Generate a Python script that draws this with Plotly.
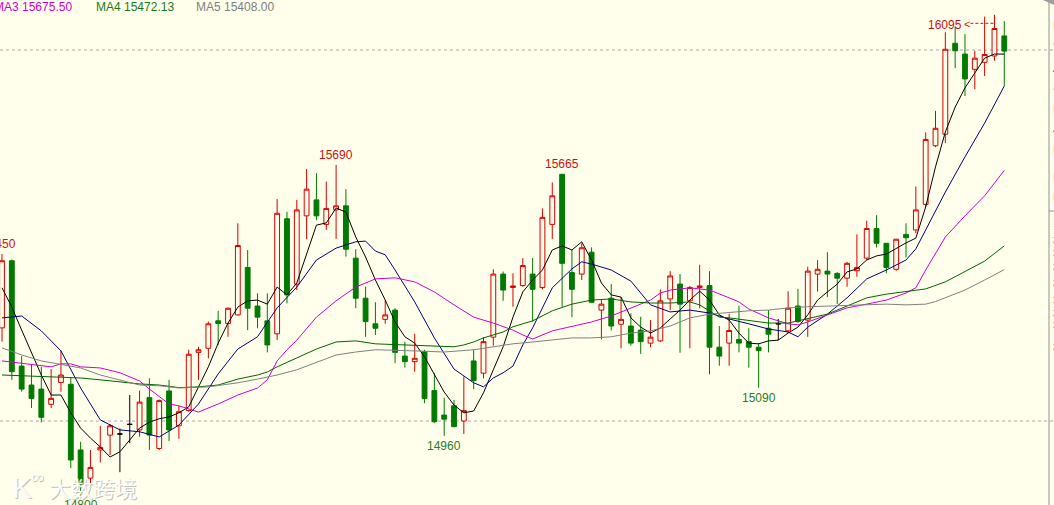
import plotly.graph_objects as go

BG = "#FFFFEC"
UP = "#D60000"
DOWN = "#007A00"
FONT = "Liberation Sans, Arial, sans-serif"

# daily candles, index 0..102 (left to right)
opens = [15251, 15432, 15148, 15097, 15086, 15045, 15104, 15099, 14922, 14846,
         14922, 14962, 14965, 14991, 14976, 15063, 14926, 15081, 14987, 15028,
         15185, 15196, 15270, 15263, 15286, 15414, 15310, 15270, 15235, 15545,
         15369, 15553, 15596, 15530, 15569, 15580, 15439, 15331, 15262, 15274,
         15299, 15175, 15160, 15187, 15082, 15016, 15041, 15000, 15162, 15129,
         15226, 15396, 15360, 15365, 15396, 15360, 15530, 15665, 15400, 15396,
         15455, 15299, 15331, 15261, 15256, 15245, 15210, 15216, 15329, 15369,
         15324, 15360, 15365, 15199, 15210, 15220, 15214, 15199, 15250, 15262,
         15243, 15310, 15272, 15396, 15404, 15398, 15385, 15405, 15439, 15519,
         15479, 15409, 15503, 15515, 15584, 15742, 15773, 16018, 15989, 15948,
         15967, 15984, 16038]
highs = [15450, 15435, 15175, 15154, 15146, 15140, 15190, 15118, 14944, 14922,
         14987, 14992, 14980, 15070, 15082, 15115, 15058, 15111, 15041, 15192,
         15200, 15268, 15297, 15306, 15533, 15461, 15344, 15344, 15598, 15564,
         15596, 15679, 15668, 15645, 15690, 15625, 15463, 15362, 15320, 15326,
         15304, 15214, 15235, 15192, 15129, 15063, 15057, 15120, 15192, 15226,
         15409, 15403, 15398, 15439, 15439, 15573, 15643, 15665, 15461, 15479,
         15468, 15326, 15369, 15334, 15290, 15281, 15272, 15355, 15404, 15396,
         15364, 15421, 15404, 15256, 15289, 15311, 15250, 15210, 15299, 15275,
         15350, 15356, 15416, 15434, 15455, 15401, 15429, 15503, 15540, 15555,
         15480, 15491, 15533, 15632, 15778, 15836, 16048, 16063, 16043, 15998,
         16090, 16095, 16078]
lows = [15214, 15111, 15079, 15035, 14996, 15035, 15079, 14873, 14800, 14832,
        14888, 14908, 14862, 14940, 14958, 14922, 14922, 14946, 14952, 15025,
        15111, 15169, 15205, 15227, 15284, 15245, 15250, 15185, 15218, 15317,
        15353, 15490, 15542, 15515, 15491, 15443, 15304, 15227, 15232, 15262,
        15156, 15144, 15133, 15048, 14995, 14960, 14983, 14965, 15086, 15115,
        15203, 15324, 15308, 15362, 15268, 15355, 15490, 15308, 15280, 15380,
        15318, 15220, 15244, 15196, 15203, 15181, 15199, 15213, 15299, 15184,
        15196, 15304, 15126, 15149, 15149, 15185, 15144, 15090, 15185, 15218,
        15237, 15265, 15227, 15349, 15334, 15315, 15362, 15389, 15434, 15468,
        15398, 15405, 15441, 15506, 15578, 15738, 15749, 15951, 15876, 15894,
        15930, 15971, 15903]
closes = [15432, 15133, 15086, 15061, 15010, 15061, 15124, 14895, 14830, 14875,
          14929, 14987, 14965, 14991, 15051, 14962, 15055, 14976, 15025, 15180,
          15192, 15262, 15263, 15304, 15473, 15304, 15280, 15205, 15560, 15340,
          15569, 15625, 15553, 15573, 15580, 15463, 15331, 15268, 15250, 15286,
          15185, 15160, 15169, 15061, 14998, 15005, 14985, 15028, 15109, 15214,
          15396, 15353, 15364, 15419, 15355, 15549, 15607, 15425, 15355, 15467,
          15320, 15315, 15256, 15274, 15210, 15214, 15226, 15324, 15391, 15315,
          15360, 15364, 15199, 15175, 15244, 15210, 15199, 15190, 15234, 15262,
          15304, 15268, 15404, 15409, 15396, 15385, 15425, 15414, 15519, 15479,
          15414, 15490, 15494, 15569, 15759, 15789, 16002, 15998, 15922, 15978,
          15988, 16058, 15997]

# moving averages (candle index -> value)
ma1 = [15359, 15307, 15245, 15183, 15124, 15070, 15070, 15022, 14981, 14954,
       14930, 14903, 14917, 14949, 14981, 14997, 15006, 15011, 15022, 15038,
       15092, 15146, 15210, 15264, 15307, 15324, 15326, 15315, 15361, 15340,
       15372, 15453, 15528, 15534, 15574, 15563, 15496, 15442, 15380, 15326,
       15267, 15227, 15210, 15173, 15124, 15078, 15043, 15022, 15027, 15076,
       15138, 15200, 15280, 15348, 15380, 15407, 15461, 15472, 15461, 15483,
       15434, 15372, 15340, 15334, 15278, 15253, 15237, 15251, 15275, 15299,
       15326, 15350, 15326, 15286, 15272, 15237, 15210, 15208, 15216, 15218,
       15237, 15253, 15286, 15326, 15348, 15369, 15402, 15410, 15434, 15445,
       15450, 15466, 15480, 15493, 15577, 15685, 15779, 15846, 15898, 15938,
       15978, 15989, 15989]
ma2_x = [0, 2, 4, 6, 8, 10, 12, 14, 16, 18, 20, 22, 24, 26, 28, 30, 32, 34, 36, 37,
         38, 39, 40, 42, 44, 46, 48, 49, 50, 51, 52, 53, 54, 56, 58, 59, 60, 62, 64, 66,
         68, 70, 72, 74, 76, 78, 80, 81, 82, 84, 86, 88, 90, 92, 93, 94, 96, 98, 100, 102]
ma2 = [15278, 15283, 15243, 15189, 15089, 15003, 14976, 14971, 14957, 14989,
       15046, 15127, 15194, 15227, 15305, 15361, 15434, 15466, 15483, 15485,
       15458, 15448, 15407, 15321, 15224, 15140, 15103, 15092, 15116, 15130,
       15148, 15205, 15251, 15359, 15410, 15429, 15423, 15407, 15377, 15313,
       15294, 15299, 15291, 15275, 15262, 15248, 15240, 15227, 15253, 15288,
       15332, 15383, 15407, 15434, 15464, 15515, 15617, 15712, 15803, 15903]
ma3_x = [0, 2, 4, 5, 6, 7, 8, 10, 12, 14, 15, 16, 17, 18, 20, 22, 24, 26, 27, 28,
         29, 30, 32, 34, 36, 38, 40, 42, 44, 46, 48, 50, 52, 53, 54, 56, 58, 60, 62, 64,
         66, 67, 68, 70, 72, 74, 75, 76, 78, 80, 81, 82, 84, 86, 88, 90, 92, 93, 94, 96,
         98, 100, 102]
ma3 = [15162, 15156, 15148, 15146, 15154, 15154, 15146, 15143, 15130, 15108,
       15086, 15065, 15046, 15041, 15024, 15046, 15070, 15089, 15111, 15162,
       15192, 15218, 15280, 15324, 15361, 15383, 15386, 15375, 15348, 15313,
       15280, 15264, 15245, 15232, 15221, 15243, 15254, 15267, 15283, 15305,
       15326, 15345, 15353, 15359, 15353, 15332, 15321, 15302, 15278, 15262,
       15259, 15267, 15286, 15305, 15315, 15326, 15345, 15359, 15407, 15496,
       15553, 15607, 15675.50]
ma4_x = [0, 4, 8, 10, 12, 14, 16, 18, 20, 22, 24, 26, 27, 28, 30, 32, 34, 36, 38, 42,
         44, 46, 47, 48, 49, 50, 51, 52, 54, 56, 58, 60, 62, 64, 66, 68, 70, 71, 72, 73,
         74, 76, 78, 80, 82, 84, 86, 88, 90, 92, 94, 96, 98, 100, 102]
ma4 = [15124, 15119, 15116, 15111, 15105, 15100, 15097, 15090, 15092, 15097,
       15113, 15124, 15132, 15146, 15170, 15194, 15213, 15216, 15208, 15205,
       15202, 15200, 15205, 15213, 15224, 15232, 15240, 15254, 15270, 15297,
       15315, 15326, 15329, 15321, 15318, 15318, 15321, 15313, 15297, 15280,
       15278, 15270, 15264, 15264, 15275, 15288, 15310, 15332, 15342, 15348,
       15356, 15375, 15404, 15431, 15472.13]
ma5_x = [0, 2, 4, 7, 8, 10, 12, 14, 16, 18, 21, 24, 26, 28, 30, 32, 34, 36, 38, 42,
         45, 48, 50, 52, 54, 56, 58, 60, 62, 64, 66, 68, 70, 72, 74, 76, 78, 80, 82, 84,
         86, 88, 90, 92, 94, 95, 96, 98, 100, 102]
ma5 = [15197, 15178, 15162, 15148, 15143, 15124, 15111, 15097, 15095, 15089,
       15092, 15103, 15113, 15124, 15138, 15159, 15178, 15186, 15192, 15189,
       15186, 15192, 15200, 15208, 15213, 15218, 15224, 15224, 15227, 15237,
       15243, 15256, 15278, 15288, 15293, 15297, 15299, 15305, 15308, 15310,
       15313, 15315, 15315, 15313, 15315, 15322, 15332, 15353, 15380, 15408.00]

doji_idx = [12, 13, 79]
high_marks = [(0, "15450"), (34, "15690"), (57, "15665")]
low_marks = [(8, "14800"), (45, "14960"), (77, "15090")]
peak_idx = 101


def candles(ix, up_line, up_fill, dn_line, dn_fill):
    return go.Candlestick(
        x=ix,
        open=[opens[i] for i in ix], high=[highs[i] for i in ix],
        low=[lows[i] for i in ix], close=[closes[i] for i in ix],
        increasing=dict(line=dict(color=up_line, width=1), fillcolor=up_fill),
        decreasing=dict(line=dict(color=dn_line, width=1), fillcolor=dn_fill),
        whiskerwidth=0, hoverinfo="skip", showlegend=False)


def paper_text(xpx, ypx, text, font, **kw):
    # place a text by pixel position inside the 1049x505 plot area
    fig.add_annotation(xref="paper", yref="paper", x=xpx / 1049, y=1 - ypx / 505,
                       text=text, showarrow=False, yanchor="middle", font=font, **kw)


fig = go.Figure()
normal = [i for i in range(len(opens)) if i not in doji_idx]
fig.add_trace(candles(normal, UP, BG, DOWN, DOWN))
fig.add_trace(candles(doji_idx, "black", "black", "black", "black"))

lines = [
    (list(range(len(ma1))), ma1, "#000000"),
    (ma2_x, ma2, "#000070"),
    (ma3_x, ma3, "#D000D0"),
    (ma4_x, ma4, "#006400"),
    (ma5_x, ma5, "#808080"),
]
for xs, ys, col in lines:
    fig.add_trace(go.Scatter(x=xs, y=ys, mode="lines", line=dict(color=col, width=1),
                             hoverinfo="skip", showlegend=False))

for i, txt in high_marks:
    fig.add_annotation(x=i, y=highs[i], text=txt, showarrow=False, yanchor="bottom",
                       yshift=1, xshift=-3 if i == 0 else 0,
                       font=dict(family=FONT, size=12, color="#CC1010"))
for i, txt in low_marks:
    fig.add_annotation(x=i, y=lows[i], text=txt, showarrow=False, yanchor="top",
                       yshift=-1, font=dict(family=FONT, size=12, color="#2A7A2A"))

# peak label with dashed pointer
fig.add_annotation(x=peak_idx - 5, y=highs[peak_idx], text=str(highs[peak_idx]),
                   showarrow=False, yshift=-10, font=dict(family=FONT, size=12, color="#CC1010"))
fig.add_annotation(x=peak_idx - 2.75, y=highs[peak_idx], text="<", showarrow=False,
                   yshift=-9, font=dict(family=FONT, size=11, color="#CC1010"))
fig.add_shape(type="line", x0=peak_idx - 2.45, x1=peak_idx, y0=16072, y1=16072,
              line=dict(color="#CC1010", width=1, dash="3px,2px"))

# dashed reference lines
for lvl in (15000, 16000):
    fig.add_shape(type="line", xref="paper", x0=0, x1=1.01, y0=lvl, y1=lvl, layer="below",
                  line=dict(color="#A8A8A8", width=1, dash="3px,3px"))

# right-hand axis strip (mostly cut off)
fig.add_shape(type="line", xref="paper", yref="paper", x0=1, x1=1, y0=0, y1=1,
              line=dict(color="#909090", width=1))
fig.add_shape(type="line", xref="paper", yref="paper", x0=1, x1=1.01, y0=1 - 211 / 505,
              y1=1 - 211 / 505, line=dict(color="#909090", width=1))
fig.add_shape(type="path", xref="paper", yref="paper",
              path="M 0.994 1 L 1.01 1 L 1.01 0.985 Z", fillcolor="#A0A0A0", line=dict(width=0))
for ypx, ch in [(25, "I"), (40, "三"), (70, "4"), (85, "三"), (110, "I"), (130, "4"),
                (150, "I"), (177, "I"), (197, "I"), (223, "1"), (240, "3"), (253, "3"),
                (267, "3"), (283, "3"), (300, "3"), (313, "3"), (325, "3"), (347, "3")]:
    paper_text(1050.5, ypx, ch, dict(family=FONT, size=11, color="#404040"), xanchor="left")

# MA readout at top
for xpx, txt, col in [(-8, "MA3 15675.50", "#D000D0"), (94, "MA4 15472.13", "#1A7A1A"),
                      (194, "MA5 15408.00", "#808080")]:
    paper_text(xpx, 7, txt, dict(family=FONT, size=12, color=col), xanchor="left")

# watermark
for dx, dy, col in [(1, -1, "rgba(140,140,140,0.55)"), (0, 0, "rgba(255,255,255,0.95)")]:
    paper_text(93, 487, "大数跨境", dict(family="Noto Sans CJK SC", size=22, color=col),
               xanchor="center", xshift=dx, yshift=dy)
    paper_text(22, 487, "K", dict(family=FONT, size=30, color=col),
               xanchor="center", xshift=dx, yshift=dy)
    paper_text(37, 477, "∞", dict(family=FONT, size=18, color=col),
               xanchor="center", xshift=dx, yshift=dy)

fig.update_layout(
    width=1054, height=505, margin=dict(l=0, r=5, t=0, b=0),
    paper_bgcolor=BG, plot_bgcolor=BG, showlegend=False,
    xaxis=dict(range=[-0.204, 106.55], visible=False, rangeslider=dict(visible=False)),
    yaxis=dict(range=[14773.6, 16134.8], showgrid=False, showticklabels=False,
               zeroline=False, ticks=""),
)

fig.write_html("out.html", config={"displayModeBar": False},
               post_script="document.body.style.margin='0px';")
